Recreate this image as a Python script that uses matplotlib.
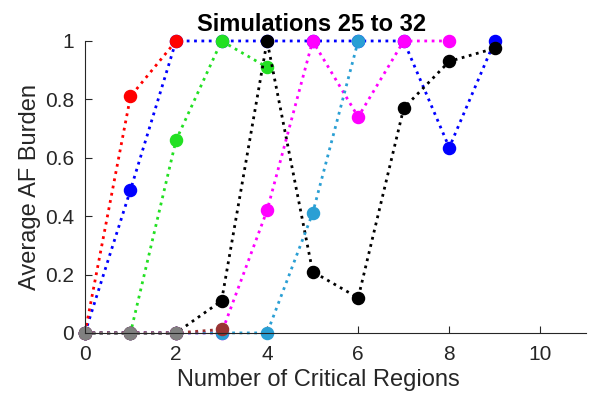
import numpy as np
import matplotlib
matplotlib.use("Agg")
import matplotlib.pyplot as plt

plt.rcParams['font.family'] = ['Liberation Sans', 'DejaVu Sans']

# Average AF burden per simulation (25 to 32), x = number of critical regions
sim25 = [0, 0.81, 1.0]
sim26 = [0, 0.49, 1.0, 1.0, 1.0, 1.0, 1.0, 1.0, 0.635, 1.0]
sim27 = [0, 0, 0.66, 1.0, 0.91]
sim28 = [0, 0, 0, 0.11, 1.0, 0.21, 0.12, 0.77, 0.93, 0.975]
sim29 = [0, 0, 0, 0, 0.42, 1.0, 0.74, 1.0, 1.0]
sim30 = [0, 0, 0, 0, 0, 0.41, 1.0]
sim31 = [0, 0, 0, 0.012]
sim32 = [0, 0, 0]

series = [
    (sim26, '#0000ff'),
    (sim25, '#ff0000'),
    (sim27, '#22e022'),
    (sim28, '#000000'),
    (sim29, '#ff00ff'),
    (sim30, '#2a9fd4'),
    (sim31, '#993333'),
    (sim32, '#808080'),
]

fig = plt.figure(figsize=(5.9, 3.94), dpi=100)
ax = fig.add_axes([0.144, 0.155, 0.849, 0.741])

for vals, col in series:
    x = np.arange(len(vals))
    ax.plot(x, vals, ':', color=col, lw=2, marker='o', ms=8.7,
            mfc=col, mec=col, clip_on=False)

ax.set_xlim(0, 11)
ax.set_ylim(0, 1)
ax.set_xticks([0, 2, 4, 6, 8, 10])
ax.set_yticks([0, 0.2, 0.4, 0.6, 0.8, 1])
ax.set_yticklabels(['0', '0.2', '0.4', '0.6', '0.8', '1'])
ax.tick_params(direction='in', length=5, labelsize=15, colors='#262626', width=0.8)
ax.tick_params(axis='x', pad=9)
ax.tick_params(axis='y', pad=8)
for s in ['top', 'right']:
    ax.spines[s].set_visible(False)
for s in ['left', 'bottom']:
    ax.spines[s].set_color('#262626')
    ax.spines[s].set_linewidth(0.8)

ax.set_xlabel('Number of Critical Regions', fontsize=17, color='#262626')
ax.xaxis.set_label_coords(0.465, -0.125, transform=ax.transAxes)
ax.set_ylabel('Average AF Burden', fontsize=17, color='#262626', labelpad=3)
ax.set_title('Simulations 25 to 32', fontsize=17, fontweight='bold', pad=7, x=0.453)

fig.savefig('out.png', dpi=100)
